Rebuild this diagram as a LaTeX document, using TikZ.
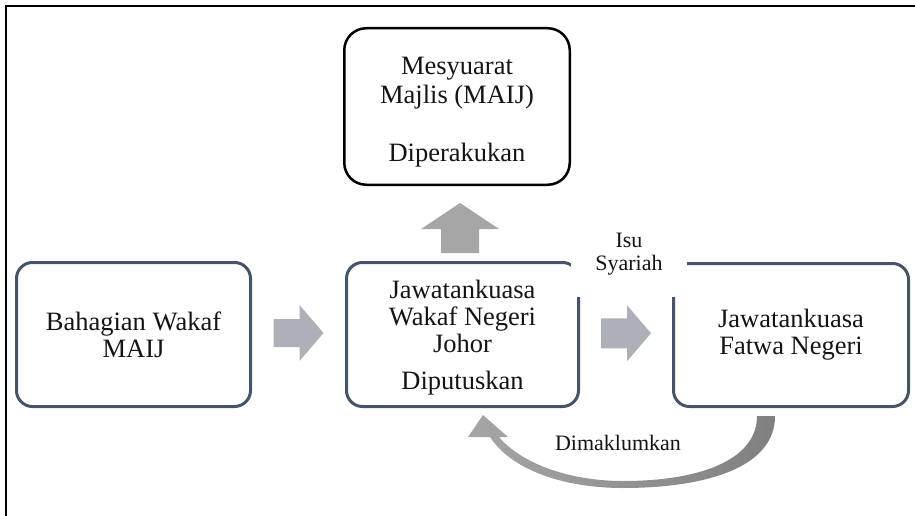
\documentclass[tikz,border=0pt]{standalone}
\usepackage{fontspec}
\setmainfont{Liberation Serif}
\usetikzlibrary{calc}
\definecolor{boxline}{HTML}{44546A}
\definecolor{arrowblue}{HTML}{ADB0B8}
\definecolor{arrowgray}{HTML}{A6A6A6}
\definecolor{arrowdark}{HTML}{808080}
\definecolor{txt}{HTML}{141414}
\begin{document}
\begin{tikzpicture}[x=1pt,y=-1pt,
  stage/.style={draw=boxline, line width=3pt, rounded corners=16pt, align=center,
    text=txt, inner sep=0pt, font=\fontsize{26.5}{27}\selectfont},
  topbox/.style={draw=black, line width=2.5pt, rounded corners=22pt, align=center,
    text=txt, inner sep=0pt, font=\fontsize{26.5}{29}\selectfont},
  lbl/.style={align=center, text=txt, inner sep=0pt, font=\fontsize{22}{23}\selectfont}]
\useasboundingbox (0,0) rectangle (915,516);
% outer frame (only left and top edges visible)
\draw[line width=2.6pt, black] (6,516) -- (6,6) -- (915,6);

% boxes
\node[topbox, minimum width=225.5pt, minimum height=156.5pt] (mes) at (457,106.5)
  {\rule{0pt}{28pt}Mesyuarat\\Majlis (MAIJ)\\[29pt]Diperakukan};
\node[stage, minimum width=234pt, minimum height=144pt] (bah) at (133.5,334.5)
  {Bahagian Wakaf\\MAIJ};
\node[stage, minimum width=232pt, minimum height=144pt] (jaw) at (462.5,334.5)
  {\rule{0pt}{24pt}Jawatankuasa\\Wakaf Negeri\\Johor\\[10pt]Diputuskan};
\node[stage, minimum width=235pt, minimum height=143pt] (fat) at (791,335)
  {Jawatankuasa\\Fatwa Negeri};

% block arrows between boxes
\coordinate (a1) at ($(bah.east)!0.5!(jaw.west)+(0,-1.5)$);
\coordinate (a2) at ($(jaw.east)!0.5!(fat.west)+(0,-1.5)$);
\coordinate (a3) at ($(mes.south)!0.56!(jaw.north)$);
\fill[arrowblue, shift={(a1)}] (-25,-14) -- (1,-14) -- (1,-28) -- (25,0) -- (1,28) -- (1,14) -- (-25,14) -- cycle;
\fill[arrowblue, shift={(a2)}] (-25,-15) -- (1,-15) -- (1,-28) -- (25,0) -- (1,28) -- (1,15) -- (-25,15) -- cycle;
\fill[arrowgray, shift={(a3)}] (-19,25) -- (-19,1) -- (-39,1) -- (0,-25) -- (39,1) -- (19,1) -- (19,25) -- cycle;

% label Isu Syariah, with white ground over the box corners
\fill[white] (571,231) rectangle (687,297);
\node[lbl] (isu) at (629,254.5) {Isu\\Syariah};

% curved return arrow from Fatwa to Wakaf committee
\shade[left color=arrowgray, middle color=arrowgray, right color=arrowdark]
  (775,416) .. controls (775,470) and (700,488) .. (623,488)
  .. controls (560,488) and (510,468) .. (490,437)
  -- (468,437) -- (483,415) -- (508,437) -- (499,437)
  .. controls (522,464) and (570,481) .. (623,481)
  .. controls (700,481) and (757,460) .. (757,416) -- cycle;
\node[lbl] (dim) at (618,443) {Dimaklumkan};
\end{tikzpicture}
\end{document}
